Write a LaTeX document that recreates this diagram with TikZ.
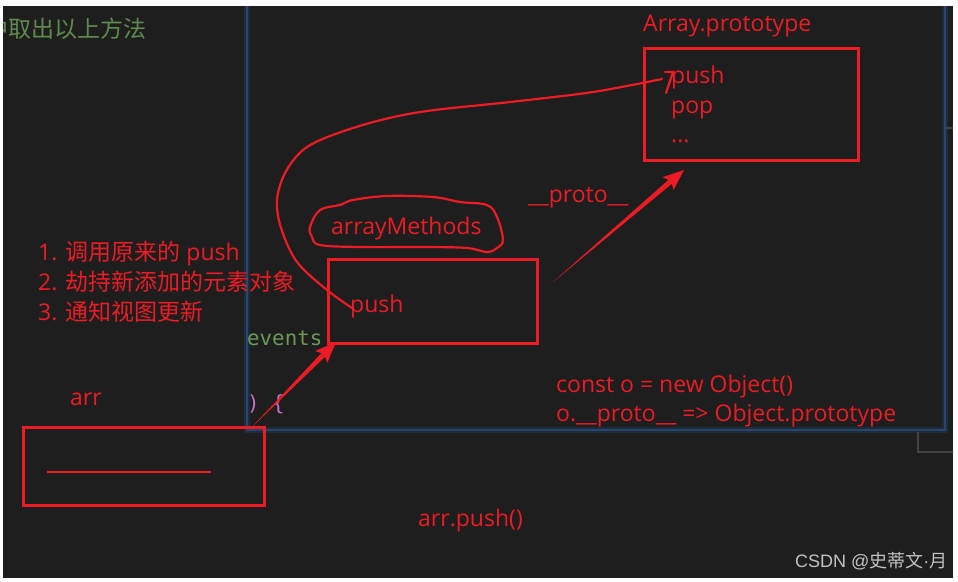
\documentclass[tikz,border=0pt]{standalone}
\usepackage{fontspec}
\setmainfont{Open Sans}
\newfontfamily\cjk{Noto Sans CJK SC}
\newfontfamily\monof{DejaVu Sans Mono}
\newfontfamily\wmfont{Liberation Sans}
\usetikzlibrary{arrows.meta,calc}
\definecolor{bgdark}{RGB}{30,30,30}
\definecolor{penred}{RGB}{237,28,36}
\definecolor{cmtgreen}{RGB}{96,139,78}
\definecolor{codegreen}{RGB}{106,153,85}
\definecolor{orchidc}{RGB}{197,110,200}
\definecolor{panelblue}{RGB}{36,70,112}
\definecolor{wmgray}{RGB}{195,195,195}
\definecolor{shadowgray}{RGB}{66,66,66}
\newcommand{\taperarrow}[2]{%
  \fill[penred] (#1) -- ($(#2)!17pt!(#1)!2.6pt!90:(#1)$) -- ($(#2)!17pt!(#1)!2.6pt!-90:(#1)$) -- cycle;
  \fill[penred] (#2) -- ($(#2)!21pt!(#1)!8.5pt!90:(#1)$) -- ($(#2)!17pt!(#1)$) -- ($(#2)!21pt!(#1)!8.5pt!-90:(#1)$) -- cycle;}
\begin{document}
\begin{tikzpicture}[x=1pt,y=-1pt,
  redbox/.style={draw=penred,line width=3pt,inner sep=0pt,outer sep=0pt},
  redtext/.style={text=penred,font=\fontsize{23}{28}\selectfont,anchor=base west,inner sep=0pt},
  pen/.style={draw=penred,line width=2.2pt,line cap=round,line join=round},
  codetext/.style={font=\monof\fontsize{20.8}{25}\selectfont,anchor=base west,inner sep=0pt}]
\useasboundingbox (0,0) rectangle (958,581);
\fill[white] (0,0) rectangle (958,581);
\fill[bgdark] (3,6) rectangle (953,578);
\begin{scope}
\clip (3,6) rectangle (953,578);
% editor panel frame
\draw[panelblue,opacity=0.35,line width=6pt] (247,0) -- (247,430) -- (945,430) -- (945,0);
\draw[panelblue,line width=2.2pt] (247,0) -- (247,430) -- (945,430) -- (945,0);
\draw[shadowgray,line width=1.5pt] (918,432) -- (918,452) -- (960,452);
\draw[shadowgray,line width=1.2pt] (946,128) -- (960,128);
% code fragments
\node[text=cmtgreen,font=\cjk\fontsize{23}{28}\selectfont,anchor=base west,inner sep=0pt] (cmt) at (-15,37) {中取出以上方法};
\node[codetext,text=codegreen] (events) at (247,345) {events};
\node[codetext,text=orchidc] (paren) at (247,410) {) \{};
% boxes
\node[redbox,minimum width=214pt,minimum height=112pt] (protobox) at (751,104) {};
\node[redbox,minimum width=209pt,minimum height=84pt] (pushbox) at (432.5,301) {};
\node[redbox,minimum width=241pt,minimum height=78pt] (arrbox) at (143.5,466) {};
\draw[penred,line width=2pt] ($(arrbox.west)+(24,6)$) coordinate (la) -- ($(arrbox.west)+(188,6)$) coordinate (lb);
% texts
\node[redtext] (title) at (643,31) {Array.prototype};
\node[redtext] (ap1) at (671,83) {push};
\node[redtext] (ap2) at (671,113) {pop};
\node[redtext] (ap3) at (671,142) {...};
\node[redtext] (am) at (331,234) {arrayMethods};
\node[redtext] (protolbl) at (528,202) {\_\_proto\_\_};
\node[redtext] (pushA) at (350,312) {push};
\node[redtext] (l1) at (38,260) {1. {\cjk 调用原来的} push};
\node[redtext] (l2) at (38,290) {2. {\cjk 劫持新添加的元素对象}};
\node[redtext] (l3) at (38,320) {3. {\cjk 通知视图更新}};
\node[redtext] (arrlbl) at (70,405) {arr};
\node[redtext] (c1) at (556,392) {const o = new Object()};
\node[redtext] (c2) at (556,421) {o.\_\_proto\_\_ => Object.prototype};
\node[redtext] (call) at (418,526) {arr.push()};
\node[text=wmgray,font=\wmfont\fontsize{18}{22}\selectfont,anchor=base west,inner sep=0pt] (wm) at (795,567) {CSDN @{\cjk 史蒂文}·{\cjk 月}};
% arrayMethods blob
\draw[pen] plot[smooth cycle,tension=0.6] coordinates {(310,227) (320,210) (340,205) (353,200) (387,196) (433,197) (460,202) (487,205) (497,217) (503,240) (497,248) (487,252) (467,248) (427,247) (360,247) (320,245) (312,237)};
% curve from push to Array.prototype push
\coordinate (cs) at ($(pushA.base west)+(2,-4)$);
\coordinate (ce) at ($(ap1.base west)+(-9,-4)$);
\draw[pen] plot[smooth,tension=0.55] coordinates {(cs) (327,290) (297,262) (281,228) (277,200) (285,173) (303,150) (330,136) (377,121) (427,111) (510,102) (593,92) (ce)};
\draw[pen] ($(ap1.base west)+(-6,-11)$) -- ($(ap1.base west)+(2,-11)$) -- ($(ap1.base west)+(-5,10)$);
% arrows
\coordinate (t1) at ($(arrbox.north east)+(-13,1)$);
\coordinate (h1) at ($(pushbox.south west)+(8,-1)$);
\taperarrow{t1}{h1}
\coordinate (t2) at ($(pushbox.east)+(16,-19)$);
\coordinate (h2) at ($(protobox.south west)+(40,10)$);
\taperarrow{t2}{h2}
\end{scope}
\end{tikzpicture}
\end{document}
